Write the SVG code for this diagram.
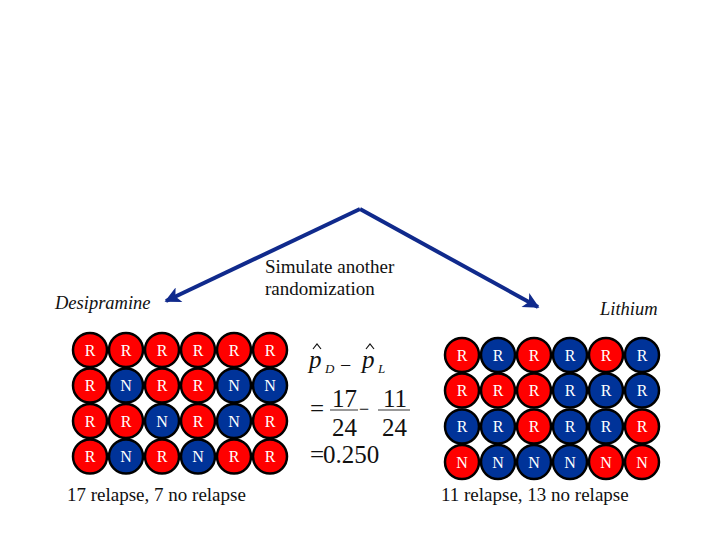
<svg xmlns="http://www.w3.org/2000/svg" width="720" height="540" viewBox="0 0 720 540">
<defs>
<style>
.r{fill:#ff0000;stroke:#000;stroke-width:2.5}
.b{fill:#003399;stroke:#000;stroke-width:2.5}
.t{font-family:"Liberation Serif","Times New Roman",serif;font-size:16px;fill:#fff;text-anchor:middle}
.lab{font-family:"Liberation Serif","Times New Roman",serif;font-size:19px;fill:#111}
.it{font-family:"Liberation Serif","Times New Roman",serif;font-style:italic;font-size:18.5px;fill:#111}
.m{font-family:"Liberation Serif","Times New Roman",serif;font-size:25px;fill:#111}
.mi{font-family:"Liberation Serif","Times New Roman",serif;font-style:italic;font-size:25px;fill:#111}
.ms{font-family:"Liberation Serif","Times New Roman",serif;font-style:italic;font-size:13px;fill:#111}
.arr{stroke:#102a8c;stroke-width:4;fill:none}
.hat{stroke:#111;stroke-width:1.2;fill:none}
.bar{stroke:#999;stroke-width:2}
</style>
<marker id="ah" viewBox="0 0 10 10" refX="9" refY="5" markerWidth="4.5" markerHeight="4" orient="auto" markerUnits="strokeWidth">
<path d="M0,0 L10,5 L0,10 L2.5,5 z" fill="#102a8c"/>
</marker>
</defs>
<rect width="720" height="540" fill="#fff"/>
<g id="connectors">
<path class="arr" d="M360,209 L166,301" marker-end="url(#ah)"/>
<path class="arr" d="M360,209 L538,307" marker-end="url(#ah)"/>
</g>
<g id="label-sim"><text class="lab" x="265" y="273">Simulate another</text><text class="lab" x="265" y="295">randomization</text></g>
<g id="label-desi"><text class="it" x="55" y="309">Desipramine</text></g>
<g id="label-lith"><text class="it" x="600" y="315">Lithium</text></g>
<g id="grid-desipramine">
<g transform="translate(90,350)">
<circle class="r" cx="0" cy="0" r="17"/><text class="t" x="0" y="5.5">R</text>
<circle class="r" cx="36" cy="0" r="17"/><text class="t" x="36" y="5.5">R</text>
<circle class="r" cx="72" cy="0" r="17"/><text class="t" x="72" y="5.5">R</text>
<circle class="r" cx="108" cy="0" r="17"/><text class="t" x="108" y="5.5">R</text>
<circle class="r" cx="144" cy="0" r="17"/><text class="t" x="144" y="5.5">R</text>
<circle class="r" cx="180" cy="0" r="17"/><text class="t" x="180" y="5.5">R</text>
</g>
<g transform="translate(90,385.5)">
<circle class="r" cx="0" cy="0" r="17"/><text class="t" x="0" y="5.5">R</text>
<circle class="b" cx="36" cy="0" r="17"/><text class="t" x="36" y="5.5">N</text>
<circle class="r" cx="72" cy="0" r="17"/><text class="t" x="72" y="5.5">R</text>
<circle class="r" cx="108" cy="0" r="17"/><text class="t" x="108" y="5.5">R</text>
<circle class="b" cx="144" cy="0" r="17"/><text class="t" x="144" y="5.5">N</text>
<circle class="b" cx="180" cy="0" r="17"/><text class="t" x="180" y="5.5">N</text>
</g>
<g transform="translate(90,421)">
<circle class="r" cx="0" cy="0" r="17"/><text class="t" x="0" y="5.5">R</text>
<circle class="r" cx="36" cy="0" r="17"/><text class="t" x="36" y="5.5">R</text>
<circle class="b" cx="72" cy="0" r="17"/><text class="t" x="72" y="5.5">N</text>
<circle class="r" cx="108" cy="0" r="17"/><text class="t" x="108" y="5.5">R</text>
<circle class="b" cx="144" cy="0" r="17"/><text class="t" x="144" y="5.5">N</text>
<circle class="r" cx="180" cy="0" r="17"/><text class="t" x="180" y="5.5">R</text>
</g>
<g transform="translate(90,456.5)">
<circle class="r" cx="0" cy="0" r="17"/><text class="t" x="0" y="5.5">R</text>
<circle class="b" cx="36" cy="0" r="17"/><text class="t" x="36" y="5.5">N</text>
<circle class="r" cx="72" cy="0" r="17"/><text class="t" x="72" y="5.5">R</text>
<circle class="b" cx="108" cy="0" r="17"/><text class="t" x="108" y="5.5">N</text>
<circle class="r" cx="144" cy="0" r="17"/><text class="t" x="144" y="5.5">R</text>
<circle class="r" cx="180" cy="0" r="17"/><text class="t" x="180" y="5.5">R</text>
</g>
</g>
<g id="grid-lithium">
<g transform="translate(462,355)">
<circle class="r" cx="0" cy="0" r="17"/><text class="t" x="0" y="5.5">R</text>
<circle class="b" cx="36" cy="0" r="17"/><text class="t" x="36" y="5.5">R</text>
<circle class="r" cx="72" cy="0" r="17"/><text class="t" x="72" y="5.5">R</text>
<circle class="b" cx="108" cy="0" r="17"/><text class="t" x="108" y="5.5">R</text>
<circle class="r" cx="144" cy="0" r="17"/><text class="t" x="144" y="5.5">R</text>
<circle class="b" cx="180" cy="0" r="17"/><text class="t" x="180" y="5.5">R</text>
</g>
<g transform="translate(462,390.5)">
<circle class="r" cx="0" cy="0" r="17"/><text class="t" x="0" y="5.5">R</text>
<circle class="r" cx="36" cy="0" r="17"/><text class="t" x="36" y="5.5">R</text>
<circle class="r" cx="72" cy="0" r="17"/><text class="t" x="72" y="5.5">R</text>
<circle class="b" cx="108" cy="0" r="17"/><text class="t" x="108" y="5.5">R</text>
<circle class="b" cx="144" cy="0" r="17"/><text class="t" x="144" y="5.5">R</text>
<circle class="b" cx="180" cy="0" r="17"/><text class="t" x="180" y="5.5">R</text>
</g>
<g transform="translate(462,426.5)">
<circle class="b" cx="0" cy="0" r="17"/><text class="t" x="0" y="5.5">R</text>
<circle class="b" cx="36" cy="0" r="17"/><text class="t" x="36" y="5.5">R</text>
<circle class="r" cx="72" cy="0" r="17"/><text class="t" x="72" y="5.5">R</text>
<circle class="b" cx="108" cy="0" r="17"/><text class="t" x="108" y="5.5">R</text>
<circle class="b" cx="144" cy="0" r="17"/><text class="t" x="144" y="5.5">R</text>
<circle class="r" cx="180" cy="0" r="17"/><text class="t" x="180" y="5.5">R</text>
</g>
<g transform="translate(462,462)">
<circle class="r" cx="0" cy="0" r="17"/><text class="t" x="0" y="5.5">N</text>
<circle class="b" cx="36" cy="0" r="17"/><text class="t" x="36" y="5.5">N</text>
<circle class="b" cx="72" cy="0" r="17"/><text class="t" x="72" y="5.5">N</text>
<circle class="b" cx="108" cy="0" r="17"/><text class="t" x="108" y="5.5">N</text>
<circle class="r" cx="144" cy="0" r="17"/><text class="t" x="144" y="5.5">N</text>
<circle class="r" cx="180" cy="0" r="17"/><text class="t" x="180" y="5.5">N</text>
</g>
</g>
<g id="formula">
<text class="mi" x="309" y="368">p</text>
<path class="hat" d="M313,349 L317,344 L321,349"/>
<text class="ms" x="325" y="373">D</text>
<text class="m" style="font-size:20px" x="340" y="372">−</text>
<text class="mi" x="362" y="368">p</text>
<path class="hat" d="M366,349 L370,344 L374,349"/>
<text class="ms" x="378" y="373">L</text>
<text class="m" x="310" y="417">=</text>
<text class="m" x="332" y="407">17</text>
<line class="bar" x1="330" y1="410" x2="358" y2="410"/>
<text class="m" x="332" y="436">24</text>
<text class="m" style="font-size:18px" x="359" y="415">−</text>
<text class="m" x="383" y="407">11</text>
<line class="bar" x1="378" y1="410" x2="410" y2="410"/>
<text class="m" x="382" y="436">24</text>
<text class="m" x="310" y="463">=</text>
<text class="m" x="323" y="463">0.250</text>
</g>
<g id="summaries">
<text class="lab" x="67" y="501">17 relapse, 7 no relapse</text>
<text class="lab" x="441" y="501">11 relapse, 13 no relapse</text>
</g>
</svg>
